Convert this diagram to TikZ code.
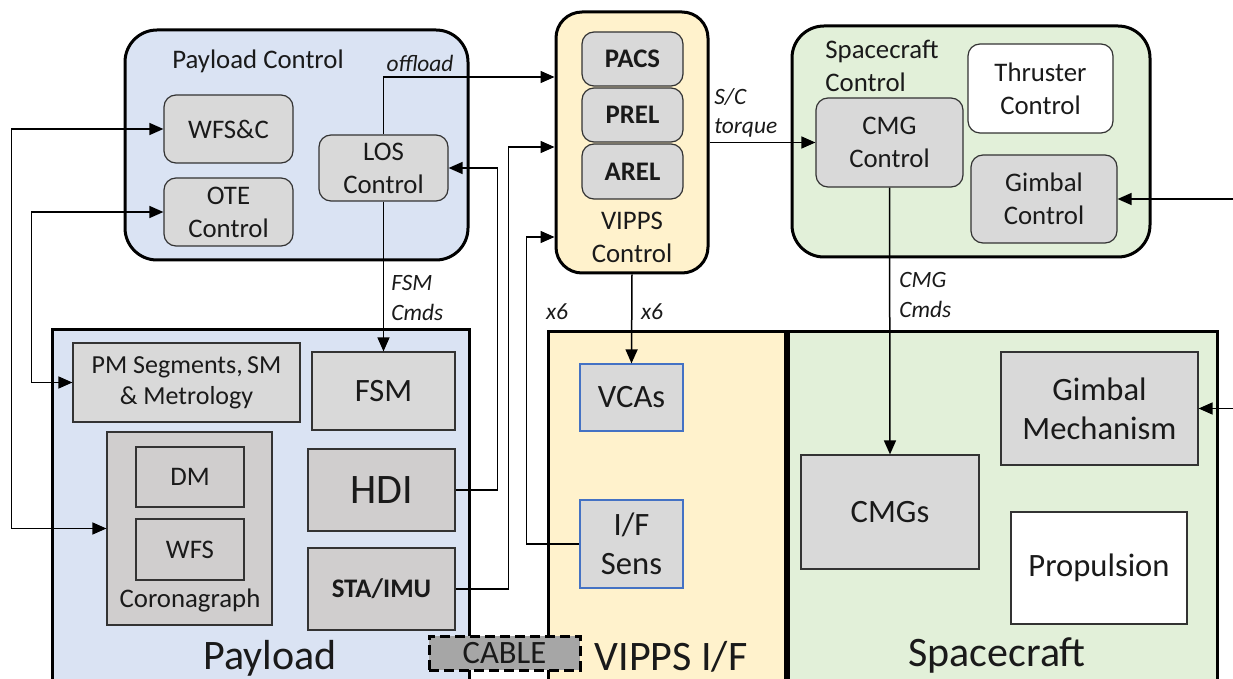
\documentclass[tikz,border=0pt]{standalone}
\usepackage{fontspec}
\setmainfont{Carlito}
\usetikzlibrary{arrows.meta}

\definecolor{payblue}{HTML}{DAE3F3}
\definecolor{vipyel}{HTML}{FFF2CC}
\definecolor{scgreen}{HTML}{E2F0D9}
\definecolor{boxgray}{HTML}{D9D9D9}
\definecolor{boxgrayb}{HTML}{D0CECE}
\definecolor{cablegray}{HTML}{A6A6A6}
\definecolor{edgeblue}{HTML}{4472C4}
\definecolor{ink}{HTML}{1A1A1A}

\newcommand\fmain{\fontsize{13.4}{16.5}\selectfont}
\newcommand\fpm{\fontsize{13}{15.5}\selectfont}
\newcommand\fmid{\fontsize{16.3}{19.5}\selectfont}
\newcommand\fbig{\fontsize{21}{24}\selectfont}
\newcommand\flab{\fontsize{11.7}{14.8}\selectfont\itshape}

% box from corner (x1,y1) to corner (x2,y2), in picture units
% #1 style, #2 name, #3..#6 corners, #7 text
\newcommand\ubox[7]{%
  \pgfmathsetmacro\bxc{(#3+#5)/2}%
  \pgfmathsetmacro\byc{(#4+#6)/2}%
  \pgfmathsetmacro\bxw{(#5-#3)*0.5}%
  \pgfmathsetmacro\byh{(#6-#4)*0.5}%
  \node[#1, minimum width=\bxw pt, minimum height=\byh pt] (#2) at (\bxc,\byc) {#7};}

\begin{document}
\begin{tikzpicture}[x=0.5pt,y=-0.5pt,
  text=ink,
  grp/.style={draw=black, line width=1.5pt, inner sep=0pt},
  rgrp/.style={grp, rounded corners=16pt},
  unit/.style={draw=black!80, line width=0.6pt, inner sep=0pt, align=center, font=\fmain},
  runit/.style={unit, rounded corners=6pt},
  tip/.tip={Triangle[length=7pt,width=6pt]},
  conn/.style={line width=0.75pt, -tip},
  both/.style={line width=0.75pt, tip-tip},
  lab/.style={font=\flab, align=left, inner sep=0pt},
  title/.style={font=\fbig, inner sep=0pt}
]
\clip (0,0) rectangle (1233,679);
\fill[white] (0,0) rectangle (1233,679);

% ---- control layer ----
\ubox{rgrp, fill=payblue}{pc}{125}{30}{468}{260}{}
\node[font=\fmain, inner sep=0pt] (pctitle) at (258,61) {Payload Control};
\ubox{rgrp, rounded corners=13pt, fill=vipyel}{vipps}{556}{12}{708}{273}{}
\node[font=\fmain, align=center, inner sep=0pt] (vippstitle) at (632,237) {VIPPS\\Control};
\ubox{rgrp, fill=scgreen}{scc}{792}{26}{1150}{257}{}
\node[font=\fmain, align=left, anchor=west, inner sep=0pt] (scctitle) at (825,66) {Spacecraft\\Control};

\ubox{runit, fill=boxgray}{wfsc}{164}{95}{293}{163}{WFS\&C}
\ubox{runit, fill=boxgray}{ote}{164}{178}{293}{246}{OTE\\Control}
\ubox{runit, fill=boxgray}{los}{319}{135}{448}{201}{LOS\\Control}

\ubox{runit, fill=boxgray, font=\fmain\bfseries}{pacs}{582}{32}{683}{86}{PACS}
\ubox{runit, fill=boxgray, font=\fmain\bfseries}{prel}{582}{88}{683}{142}{PREL}
\ubox{runit, fill=boxgray, font=\fmain\bfseries}{arel}{582}{144}{683}{199}{AREL}

\ubox{runit, fill=white}{thr}{968}{44}{1113}{133}{Thruster\\Control}
\ubox{runit, fill=boxgray}{cmgc}{816}{98}{963}{187}{CMG\\Control}
\ubox{runit, fill=boxgray}{gimc}{971}{155}{1117}{243}{Gimbal\\Control}

% ---- hardware layer ----
\ubox{grp, fill=payblue}{pay}{52}{330}{469}{700}{}
\ubox{grp, fill=vipyel}{vif}{548}{332}{785}{700}{}
\ubox{grp, fill=scgreen}{sc}{788}{332}{1217}{700}{}

\ubox{unit, fill=boxgray, font=\fpm}{pm}{73}{343}{300}{422}{PM Segments,\,SM\\\& Metrology}
\ubox{unit, fill=boxgray, font=\fmid}{fsm}{312}{352}{455}{430}{FSM}
\ubox{unit, fill=boxgrayb, font=\fbig}{hdi}{308}{449}{455}{531}{HDI}
\ubox{unit, fill=boxgrayb, font=\fmain\bfseries}{sta}{308}{548}{455}{630}{STA/IMU}
\ubox{unit, fill=boxgrayb}{coro}{107}{432}{272}{625}{}
\node[font=\fmain, inner sep=0pt] (corotitle) at (190,600) {Coronagraph};
\ubox{unit, fill=boxgrayb}{dm}{136}{447}{244}{507}{DM}
\ubox{unit, fill=boxgrayb}{wfs}{136}{519}{244}{580}{WFS}

\ubox{unit, draw=edgeblue, fill=boxgray, font=\fmid}{vcas}{580}{364}{683}{431}{VCAs}
\ubox{unit, draw=edgeblue, fill=boxgray, font=\fmid}{ifs}{580}{500}{683}{588}{I/F\\Sens}

\ubox{unit, fill=boxgray, font=\fmid}{gimm}{1001}{352}{1198}{465}{Gimbal\\Mechanism}
\ubox{unit, fill=boxgray, font=\fmid}{cmgs}{801}{455}{979}{569}{CMGs}
\ubox{unit, fill=white, font=\fmid}{prop}{1011}{512}{1187}{624}{Propulsion}

\node[title] (paytitle) at (270,658) {Payload};
\node[title] (viftitle) at (671,657) {VIPPS I/F};
\node[title] (sctitle) at (997,655) {Spacecraft};

% ---- connectors ----
\coordinate (yA) at (0,77);
\coordinate (yB) at (0,147);
\coordinate (yC) at (0,237);
\coordinate (redge) at (1233,0);

\draw[conn] (los.north) |- (vipps.west |- yA);
\draw[conn] (hdi.east) -- ++(42,0) |- (los.east);
\draw[conn] (sta.east) -- ++(53,0) |- (vipps.west |- yB);
\draw[conn] (ifs.west) -- ++(-53,0) |- (vipps.west |- yC);
\draw[conn] (vipps.east |- cmgc.west) -- (cmgc.west);
\draw[conn] (vipps.south) -- (vcas.north);
\draw[conn] (cmgc.south) -- (cmgs.north);
\draw[conn] (los.south) -- (fsm.north);
\draw[conn] (redge |- gimc.east) -- (gimc.east);
\draw[conn] (redge |- gimm.east) -- (gimm.east);
\draw[both] (wfsc.west) -- ++(-152,0) |- (coro.west);
\draw[both] (ote.west) -- ++(-132,0) |- (pm.west);

% ---- connector labels ----
\node[lab] (loff) at (420,63) {offload};
\node[lab, anchor=west] (lsc) at (714,113) {S/C\\torque};
\node[lab, anchor=west] (lfsm) at (391,298) {FSM\\Cmds};
\node[lab, anchor=west] (lcmg) at (899,295) {CMG\\Cmds};
\node[lab] (lx6a) at (557,312) {x6};
\node[lab] (lx6b) at (652,312) {x6};

% ---- cable ----
\ubox{draw=black, line width=1.5pt, dash pattern=on 5pt off 2.5pt, fill=cablegray,
      inner sep=0pt, font=\fmid}{cable}{429}{636}{580}{670}{CABLE}
\end{tikzpicture}
\end{document}
